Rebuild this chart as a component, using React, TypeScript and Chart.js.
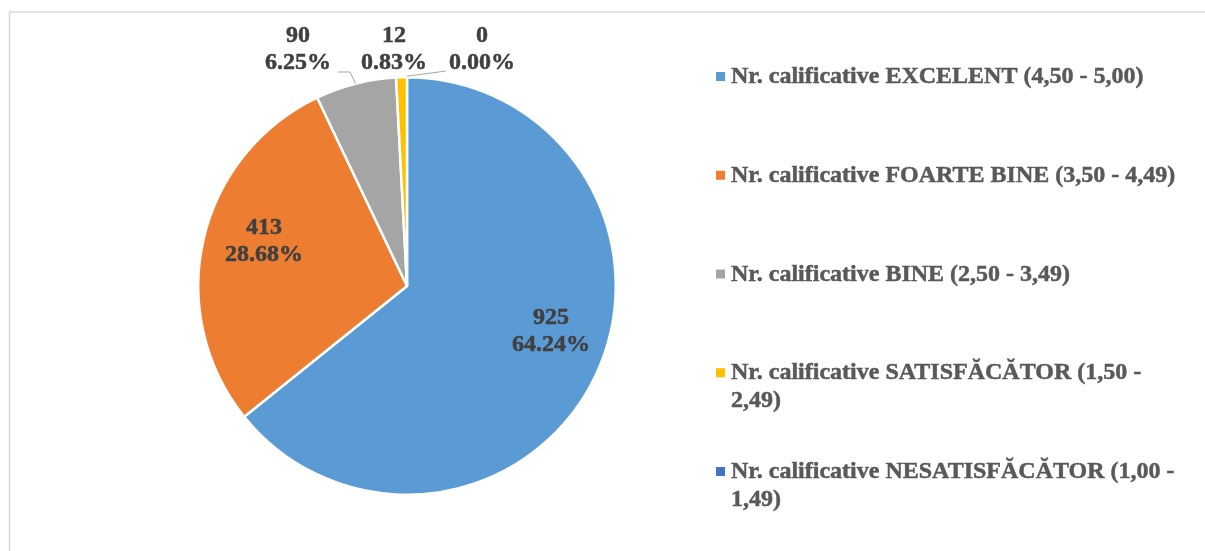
import React, { useEffect, useRef } from "react";
import { Chart, registerables } from "chart.js";

Chart.register(...registerables);

const categories = [
  "Nr. calificative EXCELENT (4,50 - 5,00)",
  "Nr. calificative FOARTE BINE (3,50 - 4,49)",
  "Nr. calificative BINE (2,50 - 3,49)",
  "Nr. calificative SATISFĂCĂTOR (1,50 - 2,49)",
  "Nr. calificative NESATISFĂCĂTOR (1,00 - 1,49)",
];
const values = [925, 413, 90, 12, 0];
const colors = ["#5B9BD5", "#ED7D31", "#A5A5A5", "#FFC000", "#4472C4"];

const FONT = "bold 24px 'Liberation Serif', 'Times New Roman', serif";

function wrapText(ctx: CanvasRenderingContext2D, text: string, maxW: number): string[] {
  const words = text.split(" ");
  const lines: string[] = [];
  let cur = "";
  for (const w of words) {
    const test = cur ? cur + " " + w : w;
    if (ctx.measureText(test).width > maxW && cur) {
      lines.push(cur);
      cur = w;
    } else cur = test;
  }
  if (cur) lines.push(cur);
  return lines;
}

function boldText(ctx: CanvasRenderingContext2D, t: string, x: number, y: number) {
  ctx.fillText(t, x, y);
  ctx.strokeText(t, x, y);
}

const customPlugin = {
  id: "custom",
  beforeDraw(chart: any) {
    const ctx = chart.ctx as CanvasRenderingContext2D;
    ctx.save();
    ctx.fillStyle = "#ffffff";
    ctx.fillRect(0, 0, chart.width, chart.height);
    ctx.strokeStyle = "#D9D9D9";
    ctx.lineWidth = 1.5;
    ctx.strokeRect(9.5, 12, chart.width + 20, chart.height + 20);
    ctx.restore();
  },
  afterDatasetsDraw(chart: any) {
    const ctx = chart.ctx as CanvasRenderingContext2D;
    const meta = chart.getDatasetMeta(0);
    const arcs = meta.data;
    const data = chart.data.datasets[0].data as number[];
    const total = data.reduce((a: number, b: number) => a + b, 0);
    const cx = arcs[0].x;
    const cy = arcs[0].y;
    const r = arcs[0].outerRadius;

    // label anchors relative to pie center: [x center, baseline of first line]
    const anchors = [
      [144, 38],
      [-143, -52],
      [-109, -244],
      [-13, -244],
      [75, -244],
    ];
    const gap = 27;
    ctx.save();
    ctx.font = FONT;
    ctx.textAlign = "center";
    ctx.textBaseline = "alphabetic";
    ctx.fillStyle = "#404040";
    ctx.strokeStyle = "#404040";
    ctx.lineWidth = 0.5;
    data.forEach((v, i) => {
      const [dx, dy] = anchors[i];
      const x = cx + dx;
      const y = cy + dy;
      const pct = ((v / total) * 100).toFixed(2) + "%";
      boldText(ctx, String(v), x, y);
      boldText(ctx, pct, x, y + gap);
    });

    // leader lines
    ctx.strokeStyle = "#A6A6A6";
    ctx.lineWidth = 1;
    const edge = (i: number) => {
      const a = arcs[i];
      const mid = (a.startAngle + a.endAngle) / 2;
      return [cx + Math.cos(mid) * r, cy + Math.sin(mid) * r];
    };
    {
      const [dx, dy] = anchors[2];
      const w = ctx.measureText(((data[2] / total) * 100).toFixed(2) + "%").width;
      const sx = cx + dx + w / 2 + 7;
      const sy = cy + dy + gap + 3;
      const [ex, ey] = edge(2);
      ctx.beginPath();
      ctx.moveTo(sx, sy);
      ctx.lineTo(sx + 12, sy);
      ctx.lineTo(ex, ey);
      ctx.stroke();
    }
    {
      const [dx, dy] = anchors[4];
      const w = ctx.measureText(((data[4] / total) * 100).toFixed(2) + "%").width;
      const sx = cx + dx - w / 2 - 3;
      const sy = cy + dy + gap + 2;
      const [ex, ey] = edge(4);
      ctx.beginPath();
      ctx.moveTo(sx, sy);
      ctx.lineTo(ex, ey - 1);
      ctx.stroke();
    }
    ctx.restore();

    // legend
    ctx.save();
    ctx.font = FONT;
    ctx.textAlign = "left";
    ctx.textBaseline = "alphabetic";
    ctx.lineWidth = 0.5;
    const legX = 716;
    const textX = 731;
    const firstBase = 83;
    const step = 98.75;
    const lineH = 27.6;
    chart.data.labels.forEach((lab: string, i: number) => {
      const base = firstBase + i * step;
      ctx.fillStyle = colors[i];
      ctx.fillRect(legX, base - 11, 9, 9);
      ctx.fillStyle = "#595959";
      ctx.strokeStyle = "#595959";
      const lines = wrapText(ctx, lab, 455);
      lines.forEach((ln, j) => boldText(ctx, ln, textX, base + j * lineH));
    });
    ctx.restore();
  },
};

export default function App() {
  const ref = useRef<HTMLCanvasElement | null>(null);
  useEffect(() => {
    if (!ref.current) return;
    const chart = new Chart(ref.current, {
      type: "pie",
      data: {
        labels: categories,
        datasets: [
          {
            data: values,
            backgroundColor: colors,
            borderColor: "#ffffff",
            borderWidth: 2.5,
          },
        ],
      },
      options: {
        responsive: true,
        maintainAspectRatio: false,
        animation: false,
        layout: { padding: { left: 197, top: 76, right: 588, bottom: 55 } },
        plugins: {
          legend: { display: false },
          tooltip: { enabled: false },
        },
      },
      plugins: [customPlugin],
    });
    return () => chart.destroy();
  }, []);
  return (
    <div style={{ position: "fixed", left: 0, top: 0, width: 1205, height: 551, background: "#fff" }}>
      <canvas ref={ref} />
    </div>
  );
}
